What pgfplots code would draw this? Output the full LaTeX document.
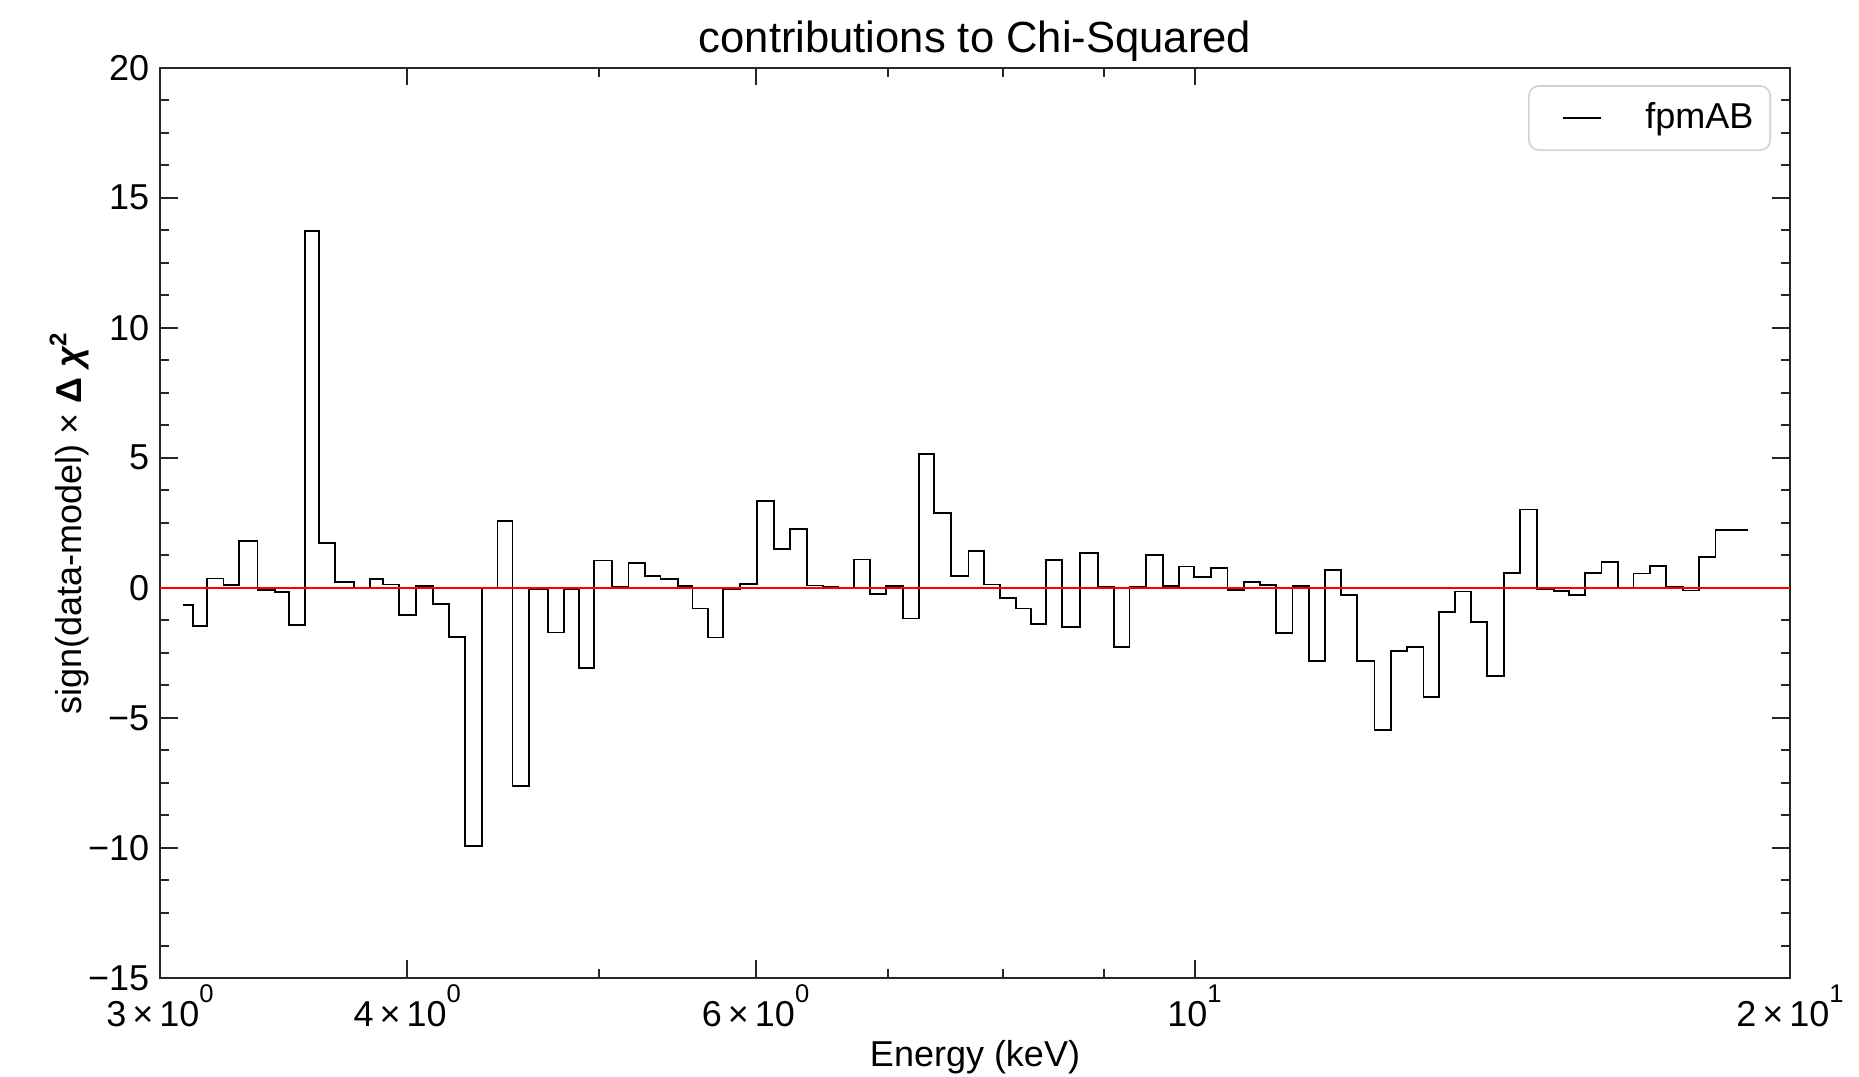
\documentclass[border=0pt]{standalone}
\usepackage{fontspec}
\setmainfont{Liberation Sans}
\usepackage{pgfplots}
\pgfplotsset{compat=1.18}
\newcommand{\sups}[1]{\raisebox{0.64em}{\fontsize{6.4}{7}\selectfont #1}}
\pgfplotstableread{
x y
3.0805 -0.67
3.1166 -1.46
3.1679 0.36
3.2299 0.10
3.2884 1.79
3.3606 -0.09
3.4307 -0.17
3.4843 -1.44
3.5528 13.72
3.6084 1.73
3.6794 0.21
3.7588 0.00
3.8296 0.35
3.8899 0.13
3.9613 -1.03
4.0407 0.06
4.1216 -0.62
4.2012 -1.88
4.2803 -9.91
4.3625 0.00
4.4431 2.56
4.5216 -7.63
4.6100 -0.04
4.7133 -1.72
4.8021 -0.04
4.8868 -3.08
4.9731 1.05
5.0768 0.04
5.1743 0.96
5.2761 0.45
5.3711 0.35
5.4812 0.08
5.5754 -0.79
5.6764 -1.91
5.7786 -0.05
5.8895 0.14
6.0103 3.33
6.1278 1.50
6.2483 2.27
6.3712 0.09
6.4913 0.03
6.6059 0.00
6.7304 1.09
6.8539 -0.23
6.9831 0.06
7.1262 -1.18
7.2546 5.15
7.3853 2.88
7.5332 0.47
7.6876 1.41
7.8288 0.13
7.9763 -0.38
8.1265 -0.79
8.2700 -1.40
8.4159 1.06
8.5715 -1.51
8.7503 1.35
8.9359 0.04
9.1043 -2.27
9.2714 0.03
9.4539 1.26
9.6353 0.06
9.8214 0.82
9.9948 0.42
10.190 0.76
10.391 -0.09
10.595 0.21
10.795 0.12
10.993 -1.73
11.209 0.06
11.430 -2.82
11.636 0.69
11.859 -0.28
12.078 -2.82
12.330 -5.45
12.571 -2.44
12.804 -2.28
13.055 -4.21
13.290 -0.92
13.536 -0.14
13.801 -1.32
14.061 -3.38
14.337 0.56
14.612 3.01
14.900 -0.04
15.193 -0.12
15.467 -0.26
15.758 0.56
16.060 1.00
16.363 0.00
16.671 0.55
16.999 0.85
17.313 0.04
17.652 -0.10
17.993 1.19
18.338 2.21
18.690 2.22
19.042 2.22
}\chisq
\begin{document}
\begin{tikzpicture}
\useasboundingbox (-40pt,-24.5pt) rectangle (424.75pt,244.5pt);
\begin{axis}[
  at={(0pt,0pt)}, anchor=south west,
  scale only axis, width=407.5pt, height=227.6pt,
  xmode=log, xmin=3, xmax=20, ymin=-15, ymax=20,
  xtick={3,4,6,10,20},
  xticklabels={3\,×\,10\sups{0},4\,×\,10\sups{0},6\,×\,10\sups{0},10\sups{1},2\,×\,10\sups{1}},
  minor xtick={5,7,8,9},
  ytick={-15,-10,-5,0,5,10,15,20},
  yticklabels={−15,−10,−5,0,5,10,15,20},
  minor y tick num=3,
  tick align=inside,
  major tick length=4.4pt, minor tick length=2.3pt,
  every tick/.style={black!85, line width=0.5pt},
  axis line style={black!85, line width=0.5pt},
  tick label style={font=\fontsize{9}{10.8}\selectfont, black},
  xticklabel style={inner sep=0pt, anchor=base, yshift=-12pt},
  yticklabel style={inner sep=0pt, anchor=east, xshift=-2.5pt},
  every axis title shift=0pt,
  title={contributions to Chi-Squared},
  title style={at={(axis description cs:0.5,1.0286)}, anchor=center, font=\fontsize{10.9}{13}\selectfont},
  xlabel={Energy (keV)},
  xlabel style={at={(axis description cs:0.5,-0.087)}, anchor=center, font=\fontsize{9}{10.8}\selectfont},
  ylabel={sign(data-model) × \textbf{Δ \textit{χ}\textsuperscript{2}}},
  ylabel style={at={(axis description cs:-0.0556,0.5)}, anchor=center, font=\fontsize{9}{10.8}\selectfont},
  legend style={at={(axis description cs:1,1)}, anchor=north east, xshift=-4.75pt, yshift=-4.4pt,
    draw=black!18, rounded corners=2.5pt, fill=white, font=\fontsize{9}{10.8}\selectfont,
    inner xsep=2.2pt, inner ysep=2pt, nodes={inner sep=2pt},
    /tikz/every odd column/.append style={column sep=8.8pt}},
  legend image code/.code={\draw[draw=none] (0pt,0pt) -- (6.4pt,0pt); \draw[black, line width=0.45pt] (6.4pt,0pt) -- (15.9pt,0pt);},
  clip=true,
]
\addplot[const plot, black, line width=0.45pt] table {\chisq};
\addlegendentry{fpmAB}
\addplot[red, line width=0.4pt, forget plot] coordinates {(3,0) (20,0)};
\end{axis}
\end{tikzpicture}
\end{document}
